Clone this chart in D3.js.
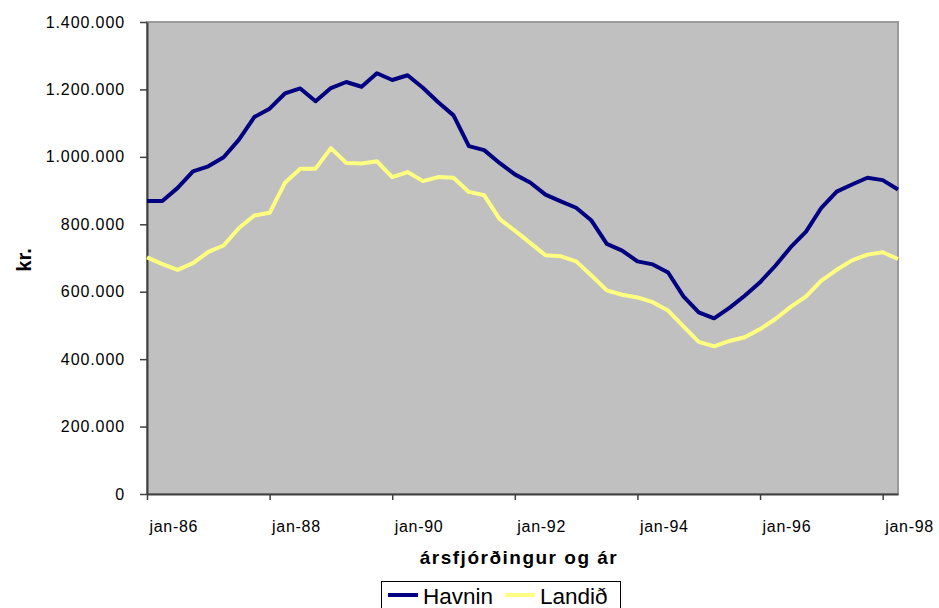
<!DOCTYPE html>
<html>
<head>
<meta charset="utf-8">
<script src="https://cdn.jsdelivr.net/npm/d3@7"></script>
<style>
  body { margin: 0; background: #ffffff; }
  text { font-family: "Liberation Sans", Arial, sans-serif; }
</style>
</head>
<body>
<script>

// quarters from jan-86 to apr-98
var years = ["86","87","88","89","90","91","92","93","94","95","96","97","98"];
var months = ["jan","apr","jul","okt"];

var havnin = [
  869000, 869000, 908000, 957000, 972000, 999000, 1051000, 1118000, 1143000, 1188000,
  1203000, 1165000, 1204000, 1222000, 1208000, 1248000, 1228000, 1242000, 1205000, 1162000,
  1123000, 1032000, 1020000, 982000, 948000, 924000, 888000, 868000, 849000, 811000,
  742000, 722000, 690000, 681000, 657000, 586000, 539000, 521000, 552000, 588000,
  628000, 677000, 732000, 778000, 849000, 897000, 918000, 938000, 931000, 903000
];

var landid = [
  702000, 682000, 665000, 685000, 718000, 737000, 789000, 826000, 834000, 923000,
  965000, 965000, 1026000, 982000, 980000, 987000, 940000, 955000, 928000, 940000,
  938000, 896000, 886000, 816000, 781000, 745000, 708000, 705000, 690000, 648000,
  604000, 591000, 583000, 569000, 544000, 497000, 451000, 438000, 454000, 465000,
  489000, 519000, 555000, 586000, 633000, 665000, 693000, 710000, 717000, 697000
];

var yTicks = [0, 200000, 400000, 600000, 800000, 1000000, 1200000, 1400000];
var xTickEvery = 8;

var seriesNames = ["Havnin", "Landið"];
var seriesColors = ["#000080", "#FFFF80"];

var graphSettings = {
  width : 939,
  height : 608,
  left : 147,
  right : 898,
  top : 22,
  bottom : 494,
  plotColor : "#C0C0C0",
  lineWidth : 4,
};

//***********************************

var categories = [];
years.forEach(function(y) {
  months.forEach(function(m) {
    if (categories.length < havnin.length) categories.push(m + "-" + y);
  });
});

var svg = d3.select("body").append("svg")
  .attr("width", graphSettings.width)
  .attr("height", graphSettings.height);

var xScale = d3.scalePoint()
  .domain(categories)
  .range([graphSettings.left, graphSettings.right]);

var yScale = d3.scaleLinear()
  .domain([0, 1400000])
  .range([graphSettings.bottom, graphSettings.top]);

var locale = d3.formatLocale({decimal: ",", thousands: ".", grouping: [3], currency: ["", ""]});
var fmt = locale.format(",");

// plot area
svg.append("rect")
  .attr("x", graphSettings.left)
  .attr("y", graphSettings.top)
  .attr("width", graphSettings.right - graphSettings.left)
  .attr("height", graphSettings.bottom - graphSettings.top)
  .attr("fill", graphSettings.plotColor)
  .attr("stroke", "#9a9a9a")
  .attr("stroke-width", 2);

// y axis
var gy = svg.append("g")
  .attr("transform", "translate(" + graphSettings.left + ",0)")
  .call(d3.axisLeft(yScale).tickValues(yTicks).tickFormat(fmt).tickSize(7).tickSizeOuter(0));

gy.select(".domain").attr("stroke", "#404040").attr("stroke-width", 2);
gy.selectAll(".tick line").attr("stroke", "#404040").attr("stroke-width", 1.5);
gy.selectAll(".tick text")
  .attr("x", -22)
  .attr("font-size", "16px")
  .attr("letter-spacing", "0.9px")
  .attr("fill", "#000");

// x axis
var gx = svg.append("g")
  .attr("transform", "translate(0," + graphSettings.bottom + ")")
  .call(d3.axisBottom(xScale)
    .tickValues(categories.filter(function(d, i) { return i % xTickEvery == 0; }))
    .tickSize(6).tickSizeOuter(0));

gx.select(".domain").attr("stroke", "#404040").attr("stroke-width", 2);
gx.selectAll(".tick line").attr("stroke", "#404040").attr("stroke-width", 1.5);
gx.selectAll(".tick text")
  .attr("x", 2)
  .attr("y", 38)
  .attr("dy", 0)
  .attr("text-anchor", "start")
  .attr("font-size", "16px")
  .attr("letter-spacing", "0.7px")
  .attr("fill", "#000");

// lines
var line = d3.line()
  .x(function(d, i) { return xScale(categories[i]); })
  .y(function(d) { return yScale(d); });

[havnin, landid].forEach(function(s, k) {
  svg.append("path")
    .datum(s)
    .attr("d", line)
    .attr("fill", "none")
    .attr("stroke", seriesColors[k])
    .attr("stroke-width", graphSettings.lineWidth)
    .attr("stroke-linejoin", "round");
});

// titles
svg.append("text")
  .attr("x", 519)
  .attr("y", 564)
  .attr("text-anchor", "middle")
  .attr("font-size", "19px")
  .attr("font-weight", "bold")
  .attr("letter-spacing", "1.5px")
  .text("ársfjórðingur og ár");

svg.append("text")
  .attr("transform", "translate(31,260) rotate(-90)")
  .attr("text-anchor", "middle")
  .attr("font-size", "20px")
  .attr("font-weight", "bold")
  .text("kr.");

// legend
var legend = svg.append("g");

legend.append("rect")
  .attr("x", 381.5)
  .attr("y", 581.5)
  .attr("width", 239)
  .attr("height", 40)
  .attr("fill", "#fff")
  .attr("stroke", "#000")
  .attr("stroke-width", 1);

var legendX = [388, 505];
seriesNames.forEach(function(name, k) {
  legend.append("line")
    .attr("x1", legendX[k]).attr("x2", legendX[k] + 30)
    .attr("y1", 595).attr("y2", 595)
    .attr("stroke", seriesColors[k])
    .attr("stroke-width", 4);
  legend.append("text")
    .attr("x", legendX[k] + 35)
    .attr("y", 603.5)
    .attr("font-size", "22.5px")
    .text(name);
});

</script>
</body>
</html>
